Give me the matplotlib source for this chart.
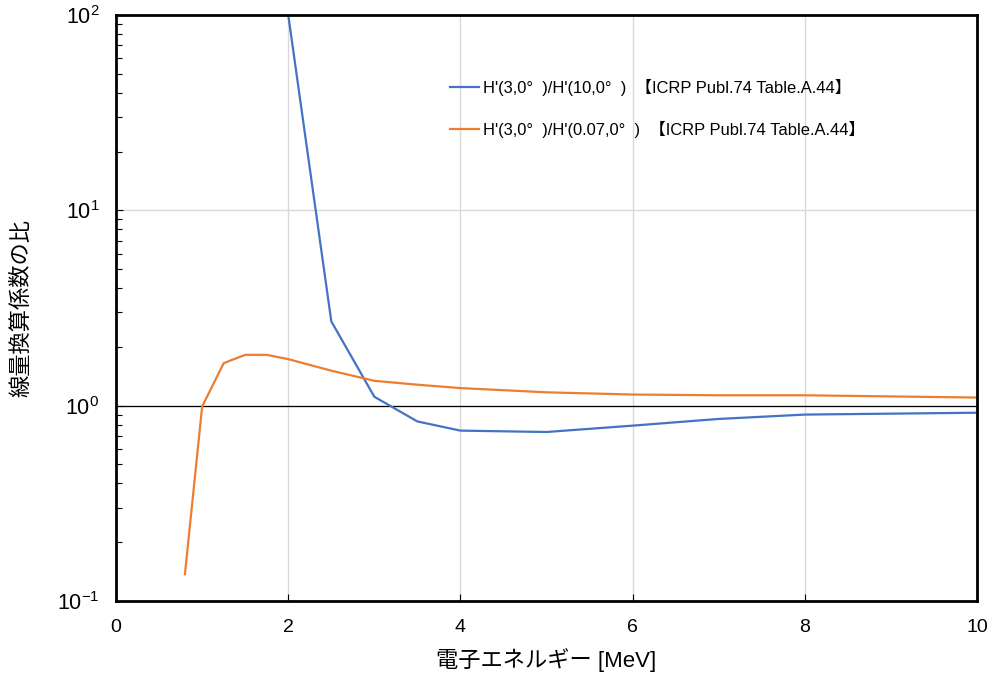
import matplotlib
matplotlib.use("Agg")
import matplotlib.pyplot as plt
from matplotlib.ticker import LogLocator, NullFormatter

plt.rcParams['font.family'] = ['Liberation Sans', 'Noto Sans CJK JP']
plt.rcParams['mathtext.fontset'] = 'custom'
plt.rcParams['mathtext.rm'] = 'Liberation Sans'
plt.rcParams['mathtext.it'] = 'Liberation Sans:italic'

# H'(3,0)/H'(10,0)
e_blue = [2.0, 2.5, 3.0, 3.5, 4.0, 5.0, 6.0, 7.0, 8.0, 10.0]
r_blue = [100.0, 2.70, 1.11, 0.83, 0.745, 0.733, 0.79, 0.855, 0.90, 0.92]

# H'(3,0)/H'(0.07,0)
e_orange = [0.8, 1.0, 1.25, 1.5, 1.75, 2.0, 2.5, 3.0, 3.5, 4.0, 5.0, 6.0, 7.0, 8.0, 10.0]
r_orange = [0.137, 0.99, 1.65, 1.82, 1.82, 1.73, 1.51, 1.34, 1.28, 1.23, 1.17, 1.14, 1.13, 1.13, 1.10]

label_blue = "H'(3,0°  )/H'(10,0°  )  【ICRP Publ.74 Table.A.44】"
label_orange = "H'(3,0°  )/H'(0.07,0°  )  【ICRP Publ.74 Table.A.44】"

fig = plt.figure(figsize=(9.97, 6.78), dpi=100)
ax = fig.add_axes([0.1164, 0.1136, 0.8636, 0.8643])

ax.plot(e_blue, r_blue, color='#4472C4', lw=1.6, label=label_blue)
ax.plot(e_orange, r_orange, color='#ED7D31', lw=1.6, label=label_orange)
ax.axhline(1.0, color='black', lw=0.9, zorder=1.5)

ax.set_yscale('log')
ax.set_xlim(0, 10)
ax.set_ylim(0.1, 100)
ax.set_xticks([0, 2, 4, 6, 8, 10])
ax.yaxis.set_minor_locator(LogLocator(base=10, subs=range(2, 10)))
ax.yaxis.set_minor_formatter(NullFormatter())

ax.grid(True, which='major', color='#d9d9d9', lw=1.0)
ax.set_axisbelow(True)

for s in ax.spines.values():
    s.set_linewidth(2.0)

ax.tick_params(axis='x', which='major', direction='in', length=5, width=0.8,
               labelsize=14, pad=13)
ax.tick_params(axis='y', which='major', direction='in', length=5, width=0.8,
               labelsize=15.5, pad=12)
ax.tick_params(axis='y', which='minor', direction='in', length=4, width=0.8)

ax.set_xlabel('電子エネルギー [MeV]', fontsize=16, labelpad=9)
ax.set_ylabel('線量換算係数の比', fontsize=16, labelpad=18)

ax.legend(loc='upper left', bbox_to_anchor=(0.388, 0.891), frameon=False,
          fontsize=11.9, handlelength=1.75, handletextpad=0.25,
          labelspacing=1.5, borderpad=0, borderaxespad=0)

fig.savefig('out.png', dpi=100)
